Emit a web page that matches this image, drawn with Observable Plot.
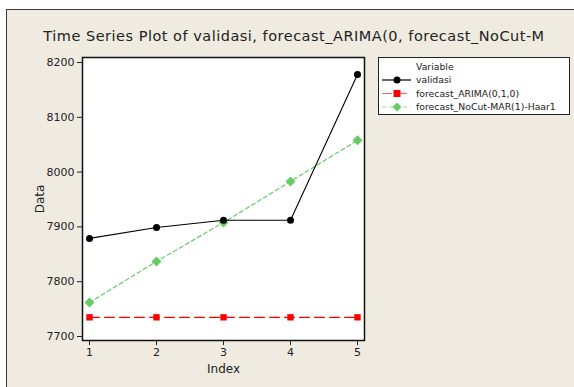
<!DOCTYPE html>
<html>
<head>
<meta charset="utf-8">
<script src="https://cdn.jsdelivr.net/npm/d3@7"></script>
<script src="https://cdn.jsdelivr.net/npm/@observablehq/plot@0.6"></script>
<style>
  html, body { margin: 0; padding: 0; background: #ffffff; }
  #wrap { position: relative; width: 574px; height: 387px; overflow: hidden; font-family: "DejaVu Sans", Verdana, sans-serif; }
  #panel { position: absolute; left: 6px; top: 9px; width: 568px; height: 378px; background: #efebe1; border-top: 1.5px solid #3a3a3a; border-left: 1.5px solid #3a3a3a; box-sizing: border-box; }
  #title { position: absolute; left: 0; width: 574px; top: 28px; text-align: center; font-size: 14.5px; letter-spacing: 0.5px; color: #222; white-space: nowrap; padding-left: 14px; box-sizing: border-box; }
  #chart { position: absolute; left: 0; top: 0; }
  #legend { position: absolute; left: 378px; top: 57px; width: 192px; height: 58px; background: #fff; border: 1px solid #222; box-sizing: border-box; }
</style>
</head>
<body>
<div id="wrap">
  <div id="panel"></div>
  <div id="title">Time Series Plot of validasi, forecast_ARIMA(0, forecast_NoCut-M</div>
  <div id="chart"></div>
  <div id="legend"></div>
</div>
<script>
const index = [1, 2, 3, 4, 5];
const validasi = [7879, 7899, 7912, 7912, 8178];
const forecastARIMA = [7735, 7735, 7735, 7735, 7735];
const forecastNoCut = [7762, 7837, 7908, 7983, 8058];
const yTicks = [7700, 7800, 7900, 8000, 8100, 8200];
const xTicks = [1, 2, 3, 4, 5];
const seriesNames = ["validasi", "forecast_ARIMA(0,1,0)", "forecast_NoCut-MAR(1)-Haar1"];
const seriesColors = ["#000000", "#ff0000", "#66cc66"];

const rows = (vals, name) => index.map((x, i) => ({x, y: vals[i], name}));
const dV = rows(validasi, seriesNames[0]);
const dA = rows(forecastARIMA, seriesNames[1]);
const dN = rows(forecastNoCut, seriesNames[2]);

const chart = Plot.plot({
  width: 574,
  height: 387,
  marginLeft: 82,
  marginRight: 210,
  marginTop: 57,
  marginBottom: 47,
  style: {background: "transparent", fontFamily: "DejaVu Sans, Verdana, sans-serif", fontSize: "11px", color: "#222"},
  x: {domain: [1, 5], insetLeft: 7, insetRight: 7},
  y: {domain: [7700, 8200], insetTop: 5, insetBottom: 4},
  marks: [
    Plot.frame({fill: "#ffffff"}),
    Plot.frame({stroke: "#111", strokeWidth: 1.5}),
    Plot.axisY({ticks: yTicks, tickSize: 5, tickPadding: 3, tickFormat: d3.format("d"), label: null, fontSize: 11}),
    Plot.axisY({ticks: [], label: "Data", labelAnchor: "center", labelArrow: "none", labelOffset: 47, fontSize: 12}),
    Plot.axisX({ticks: xTicks, tickSize: 5, tickPadding: 3, tickFormat: d3.format("d"), label: null, fontSize: 11}),
    Plot.axisX({ticks: [], label: "Index", labelAnchor: "center", labelArrow: "none", labelOffset: 32, fontSize: 12}),
    Plot.line(dA, {x: "x", y: "y", stroke: seriesColors[1], strokeWidth: 1.2, strokeDasharray: "10,5"}),
    Plot.dot(dA, {x: "x", y: "y", symbol: "square", r: 3.6, fill: seriesColors[1]}),
    Plot.line(dN, {x: "x", y: "y", stroke: seriesColors[2], strokeWidth: 1.2, strokeDasharray: "4,3"}),
    Plot.dot(dN, {x: "x", y: "y", symbol: "diamond2", r: 4.5, fill: seriesColors[2]}),
    Plot.line(dV, {x: "x", y: "y", stroke: seriesColors[0], strokeWidth: 1.1}),
    Plot.dot(dV, {x: "x", y: "y", symbol: "circle", r: 3.5, fill: seriesColors[0]})
  ]
});
document.getElementById("chart").appendChild(chart);

// Legend
const ns = "http://www.w3.org/2000/svg";
const lg = document.createElementNS(ns, "svg");
lg.setAttribute("width", 192); lg.setAttribute("height", 58);
lg.style.fontFamily = "DejaVu Sans, Verdana, sans-serif";
const mk = (tag, attrs, txt) => { const e = document.createElementNS(ns, tag); for (const k in attrs) e.setAttribute(k, attrs[k]); if (txt) e.textContent = txt; lg.appendChild(e); return e; };
mk("text", {x: 37, y: 12, "font-size": 9.3, fill: "#222"}, "Variable");
const dashes = [null, "10,5", "4,3"];
const lineCols = ["#000", "#ff6666", "#99dd99"];
seriesNames.forEach((name, i) => {
  const cy = 22 + i * 13.5;
  const a = {x1: 3, x2: 32, y1: cy, y2: cy, stroke: lineCols[i], "stroke-width": 1.2};
  if (dashes[i]) a["stroke-dasharray"] = dashes[i];
  mk("line", a);
  if (i === 0) mk("circle", {cx: 18, cy, r: 3.5, fill: seriesColors[0]});
  if (i === 1) mk("rect", {x: 14.5, y: cy - 3.5, width: 7, height: 7, fill: seriesColors[1]});
  if (i === 2) mk("path", {d: `M18,${cy-4.5}L22.5,${cy}L18,${cy+4.5}L13.5,${cy}Z`, fill: seriesColors[2]});
  mk("text", {x: 37, y: cy + 3.3, "font-size": 9.3, fill: "#222"}, name);
});
document.getElementById("legend").appendChild(lg);
</script>
</body>
</html>
